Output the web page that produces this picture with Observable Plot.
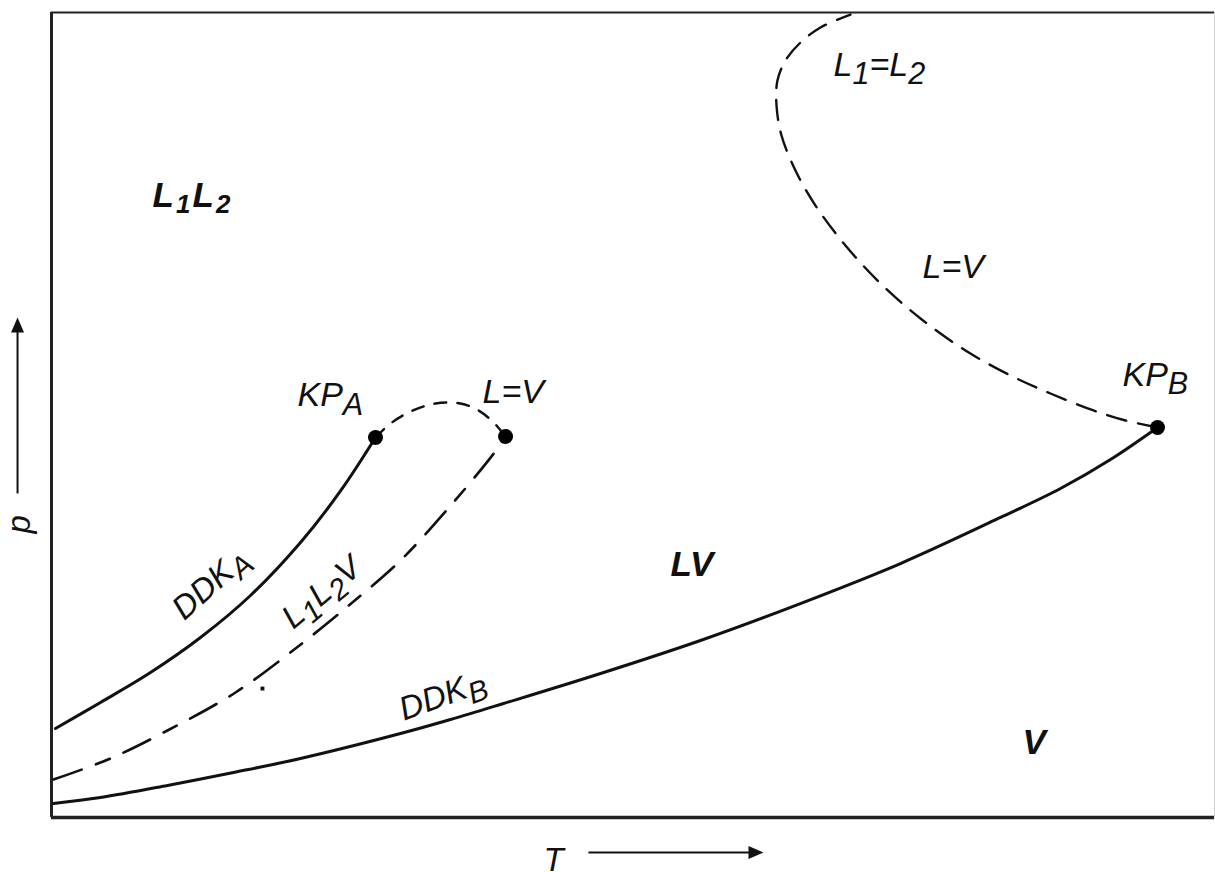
<!DOCTYPE html>
<html>
<head>
<meta charset="utf-8">
<script src="https://cdn.jsdelivr.net/npm/d3@7"></script>
<script src="https://cdn.jsdelivr.net/npm/@observablehq/plot@0.6"></script>
<style>
  html, body { margin: 0; padding: 0; background: #fff; }
  #chart svg { display: block; }
</style>
</head>
<body>
<div id="chart"></div>
<script>
// p–T projection of a binary system (arbitrary units, T and p both 0–100).
// Each curve is a list of [T, p] pairs.

// vapour-pressure curve of component A, ending at its critical point
const ddkA = [[0.34, 11.06], [4.21, 14.29], [8.51, 18.01], [12.81, 22.36], [17.11, 27.58],
              [21.41, 34.16], [24.85, 40.56], [27.86, 47.20]];
// vapour-pressure curve of component B, ending at its critical point
const ddkB = [[0.17, 1.74], [4.21, 2.48], [9.97, 3.98], [15.65, 5.59], [21.41, 7.33],
              [30.01, 10.43], [34.31, 12.17], [38.87, 14.16], [47.21, 17.89], [55.80, 21.99],
              [64.39, 26.58], [73.00, 31.55], [81.60, 37.27], [86.76, 40.87], [91.06, 44.47],
              [95.10, 48.45]];
// three-phase line L1L2V, ending at the upper critical end point
const threePhase = [[0.17, 4.72], [5.07, 7.33], [9.97, 10.81], [15.82, 15.53], [20.98, 20.99],
                    [25.97, 26.83], [30.01, 31.93], [34.48, 39.01], [38.09, 45.34], [39.04, 47.33]];
// short critical curve L=V from KP_A to the end point
const critShort = [[27.86, 47.20], [29.15, 48.94], [30.87, 50.43], [33.02, 51.43], [35.17, 51.43],
                   [36.72, 50.56], [38.01, 49.07], [39.04, 47.33]];
// critical curve L=V from KP_B turning into L1=L2 at high pressure
const critLong = [[95.10, 48.45], [92.35, 49.32], [89.60, 50.56], [85.90, 52.67], [82.46, 54.91],
                  [78.59, 58.01], [74.72, 61.99], [71.28, 66.34], [68.27, 71.06], [65.69, 76.02],
                  [63.97, 80.37], [62.77, 84.72], [62.34, 88.45], [62.42, 91.55], [63.11, 94.04],
                  [64.40, 96.27], [66.12, 98.14], [68.70, 99.75]];
// critical points and end point
const critPoints = [[27.86, 47.20], [39.04, 47.33], [95.10, 48.45]];
const strayMark = [[18.14, 16.02]];

// curve labels: text, T, p (start of baseline)
const labelText = ["KP_A", "L=V", "L_1=L_2", "L=V", "KP_B"];
const labelT    = [21.15, 37.06, 67.24, 74.89, 92.09];
const labelP    = [51.06, 51.43, 92.17, 66.96, 53.66];
// bold phase-region labels
const regionText = ["L_1L_2", "LV", "V"];
const regionT    = [8.68, 53.22, 83.49];
const regionP    = [75.78, 30.06, 7.95];
// labels written along curves: text, centre T, centre p, angle
const curveText  = ["DDK_A", "L_1L_2V", "DDK_B"];
const curveT     = [13.67, 23.22, 33.62];
const curveP     = [29.07, 27.95, 15.16];
const curveAngle = [-42, -40, -20];

// axis arrows outside the frame
const tArrow = {p: -4.35, from: 46.17, shaftEnd: 60.5, tip: 61.22};
const pArrow = {T: -2.92, from: 40.25, shaftEnd: 61.1, tip: 62.11};
const tLabel = {T: 42.30, p: -6.6};
const pLabel = {T: -1.89, p: 35.28};

const pts = (a) => a.map(([T, p]) => ({T, p}));
const font = "'Liberation Sans', Arial, Helvetica, sans-serif";
const ink = "#111";

const headUp = {draw(c) { c.moveTo(0, 0); c.lineTo(-6.5, 15); c.lineTo(6.5, 15); c.closePath(); }};
const headRight = {draw(c) { c.moveTo(0, 0); c.lineTo(-15, -6.5); c.lineTo(-15, 6.5); c.closePath(); }};

const labels = labelText.map((text, i) => ({text, T: labelT[i], p: labelP[i]}));
const regions = regionText.map((text, i) => ({text, T: regionT[i], p: regionP[i]}));
const curveLabels = curveText.map((text, i) => ({text, T: curveT[i], p: curveP[i], a: curveAngle[i]}));

const svg = Plot.plot({
  width: 1215,
  height: 872,
  marginLeft: 51,
  marginRight: 1,
  marginTop: 12,
  marginBottom: 55,
  style: {background: "#fff", fontFamily: font, overflow: "visible"},
  x: {domain: [0, 100], axis: null},
  y: {domain: [0, 100], axis: null},
  marks: [
    // frame
    Plot.ruleX([100], {stroke: "#d0d0d0", strokeWidth: 1}),
    Plot.ruleY([100], {stroke: "#222", strokeWidth: 2}),
    Plot.ruleX([0], {stroke: "#222", strokeWidth: 3}),
    Plot.ruleY([0], {stroke: "#222", strokeWidth: 3.5}),
    // curves
    Plot.line(pts(ddkA), {x: "T", y: "p", curve: "catmull-rom", stroke: ink, strokeWidth: 3}),
    Plot.line(pts(ddkB), {x: "T", y: "p", curve: "catmull-rom", stroke: ink, strokeWidth: 3}),
    Plot.line(pts(threePhase), {x: "T", y: "p", curve: "catmull-rom", stroke: ink, strokeWidth: 2.6,
      strokeDasharray: "30,15,15,15"}),
    Plot.line(pts(critShort), {x: "T", y: "p", curve: "catmull-rom", stroke: ink, strokeWidth: 2.4,
      strokeDasharray: "12,11"}),
    Plot.line(pts(critLong), {x: "T", y: "p", curve: "catmull-rom", stroke: ink, strokeWidth: 2.4,
      strokeDasharray: "20,12"}),
    Plot.dot(pts(critPoints), {x: "T", y: "p", r: 7.5, fill: "#000", stroke: "none"}),
    Plot.dot(pts(strayMark), {x: "T", y: "p", r: 2.2, symbol: "square", fill: ink, stroke: "none"}),
    // labels
    Plot.text(labels, {x: "T", y: "p", text: "text", textAnchor: "start", lineAnchor: "bottom",
      fontSize: 34, fontStyle: "italic", fill: ink}),
    Plot.text(regions, {x: "T", y: "p", text: "text", textAnchor: "start", lineAnchor: "bottom",
      fontSize: 35, fontStyle: "italic", fontWeight: "bold", fill: ink}),
    Plot.text(curveLabels, {x: "T", y: "p", text: "text", rotate: "a", textAnchor: "middle",
      fontSize: 33, fontStyle: "italic", fill: ink}),
    // axis arrows and names
    Plot.link([tArrow], {x1: "from", x2: "shaftEnd", y1: "p", y2: "p", stroke: ink, strokeWidth: 2}),
    Plot.dot([tArrow], {x: "tip", y: "p", r: 5, symbol: headRight, fill: ink, stroke: "none"}),
    Plot.link([pArrow], {x1: "T", x2: "T", y1: "from", y2: "shaftEnd", stroke: ink, strokeWidth: 2}),
    Plot.dot([pArrow], {x: "T", y: "tip", r: 5, symbol: headUp, fill: ink, stroke: "none"}),
    Plot.text([tLabel], {x: "T", y: "p", text: () => "T", textAnchor: "start", lineAnchor: "bottom",
      fontSize: 33, fontStyle: "italic", fill: ink}),
    Plot.text([pLabel], {x: "T", y: "p", text: () => "p", rotate: -90, textAnchor: "start",
      lineAnchor: "bottom", fontSize: 33, fontStyle: "italic", fill: ink})
  ]
});

document.getElementById("chart").appendChild(svg);

// Turn "X_1" markup into lowered subscript tspans.
const NS = "http://www.w3.org/2000/svg";
svg.querySelectorAll("text").forEach((el) => {
  const s = el.textContent;
  if (!s.includes("_")) return;
  const cs = getComputedStyle(el);
  const fs = parseFloat(cs.fontSize);
  const bold = parseInt(cs.fontWeight, 10) >= 600;
  const scale = bold ? 0.74 : 0.9;
  const drop = (bold ? 0.17 : 0.24) * fs;
  el.textContent = "";
  let shifted = 0;
  for (let i = 0; i < s.length; i++) {
    const ts = document.createElementNS(NS, "tspan");
    if (s[i] === "_") {
      ts.textContent = s[++i];
      ts.setAttribute("font-size", (fs * scale).toFixed(1));
      if (bold) ts.setAttribute("dx", (0.06 * fs).toFixed(1));
      if (!shifted) ts.setAttribute("dy", drop.toFixed(1));
      shifted = drop;
    } else {
      let run = "";
      while (i < s.length && s[i] !== "_") run += s[i++];
      i--;
      ts.textContent = run;
      if (bold && shifted) ts.setAttribute("dx", (0.06 * fs).toFixed(1));
      if (shifted) { ts.setAttribute("dy", (-shifted).toFixed(1)); shifted = 0; }
    }
    el.appendChild(ts);
  }
});
</script>
</body>
</html>
